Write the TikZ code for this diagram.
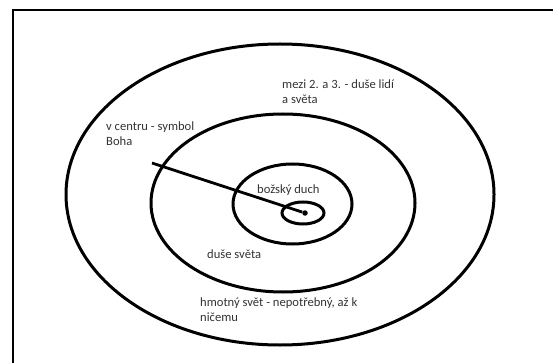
\documentclass[tikz,border=0pt]{standalone}
\usepackage{fontspec}
\setmainfont{Carlito}
\usepackage{tikz}
\usetikzlibrary{positioning}

\tikzset{
  ring/.style={line width=3pt},
  label/.style={inner sep=0pt, align=left, anchor=base west, text=black!80,
    font=\fontsize{12.6}{15.5}\selectfont},
  centredot/.style={circle, fill, inner sep=0pt, minimum size=5.5pt},
}

\begin{document}
\begin{tikzpicture}[x=1pt,y=-1pt]
  \useasboundingbox (0,0) rectangle (553,363);
  \draw[line width=1.5pt] (13,380) -- (13,10) -- (570,10);
  \draw[ring] (280,194.5) ellipse [x radius=214, y radius=150.5];
  \draw[ring] (283,203) ellipse [x radius=132, y radius=89];
  \draw[ring] (292.5,204) ellipse [x radius=59.5, y radius=40];
  \draw[ring] (303,213) ellipse [x radius=21, y radius=11];
  \node[centredot] (centre) at (305,213) {};
  \coordinate (pointer) at (152,163);
  \draw[ring, line width=2.8pt] (pointer) -- (centre);
  \node[label] (between) at (282,104) {mezi 2. a 3. - duše lidí\\a světa};
  \node[label] (symbol) at (106,146) {v centru - symbol\\Boha};
  \node[label] (spirit) at (257,193.3) {božský duch};
  \node[label] (soul) at (207,258) {duše světa};
  \node[label] (matter) at (200,321.5) {hmotný svět - nepotřebný, až k\\ničemu};
\end{tikzpicture}
\end{document}
